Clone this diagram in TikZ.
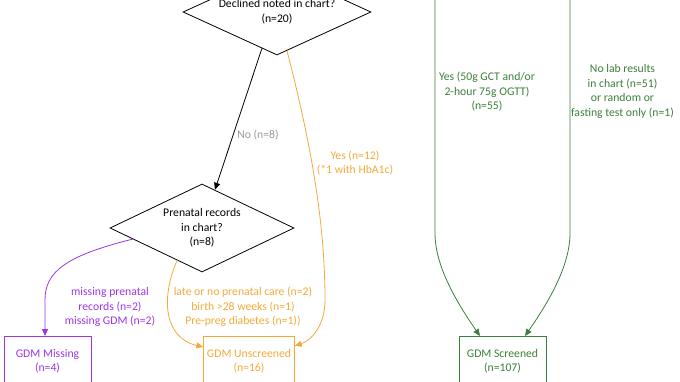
\documentclass[tikz,border=0pt]{standalone}
\usepackage{fontspec}
\setmainfont{Carlito}
\usetikzlibrary{shapes.geometric,arrows.meta,calc}
\definecolor{orng}{HTML}{F2A93B}
\definecolor{purp}{HTML}{9B35E6}
\definecolor{grn}{HTML}{3A7F3A}
\definecolor{gry}{HTML}{9A9A9A}
\begin{document}
\begin{tikzpicture}[x=1pt,y=-1pt,
  font=\fontsize{11.7}{14.5}\selectfont,
  dia/.style={diamond,draw=black,line width=0.8pt,inner sep=0pt,shape aspect=2.2,align=center},
  box/.style={rectangle,line width=0.8pt,align=center,anchor=north,minimum height=50pt},
  conn/.style={line width=0.8pt,-{Triangle[length=7pt,width=6pt]}},
  lbl/.style={align=center,inner sep=0pt}]
\useasboundingbox (0,0) rectangle (680,382);
\clip (0,0) rectangle (680,382);

% decision nodes
\node[dia,minimum width=188pt,minimum height=86pt] (d1) at (277,12) {Declined noted in chart?\\(n=20)};
\node[dia,minimum width=184pt,minimum height=88pt] (d2) at (202,228) {Prenatal records\\in chart?\\(n=8)};

% outcome boxes
\node[box,draw=purp,text=purp,minimum width=87pt] (gm) at (47.5,336) {GDM Missing\\(n=4)};
\node[box,draw=orng,text=orng,minimum width=88pt] (gu) at (249,336) {GDM Unscreened\\(n=16)};
\node[box,draw=grn,text=grn,minimum width=87pt] (gs) at (502.5,336) {GDM Screened\\(n=107)};

% free ends of the green connectors
\coordinate (gl) at (435,-5);
\coordinate (gr) at (570,-5);

% connectors
\draw[conn,black] ($(d1.south)!0.16!(d1.west)$) -- ($(d2.north)!0.14!(d2.east)$);
\draw[conn,orng] ($(d1.south)!0.106!(d1.east)$) .. controls (310,140) and (325,220) .. (325,300)
   .. controls (325,325) and (312,340) .. ($(gu.north east)+(0,10)$);
\draw[conn,orng] ($(d2.south)!0.27!(d2.west)$) .. controls (160,300) and (165,338) .. ($(gu.north west)+(0,11)$);
\draw[conn,purp] ($(d2.west)!0.25!(d2.south)$) .. controls (65,256) and (45,272) .. (45,300) -- ($(gm.north)+(-2.5,0)$);
\draw[conn,grn] (gl) -- (435,233) .. controls (435,265) and (455,300) .. ($(gs.north)+(-22.5,0)$);
\draw[conn,grn] (gr) -- (570,233) .. controls (570,265) and (550,300) .. ($(gs.north)+(22.5,0)$);

% connector labels
\node[lbl,text=gry] (lno) at (258,135) {No (n=8)};
\node[lbl,text=orng] (lyes) at (355,163) {Yes (n=12)\\(*1 with HbA1c)};
\node[lbl,text=purp] (lmiss) at (110,307) {missing prenatal\\records (n=2)\\missing GDM (n=2)};
\node[lbl,text=orng] (llate) at (243,307) {late or no prenatal care (n=2)\\birth >28 weeks (n=1)\\Pre-preg diabetes (n=1))};
\node[lbl,text=grn] (lyes2) at (487,92) {Yes (50g GCT and/or\\2-hour 75g OGTT)\\(n=55)};
\node[lbl,text=grn] (lnolab) at (622.5,91.5) {No lab results\\in chart (n=51)\\or random or\\fasting test only (n=1)};
\end{tikzpicture}
\end{document}
